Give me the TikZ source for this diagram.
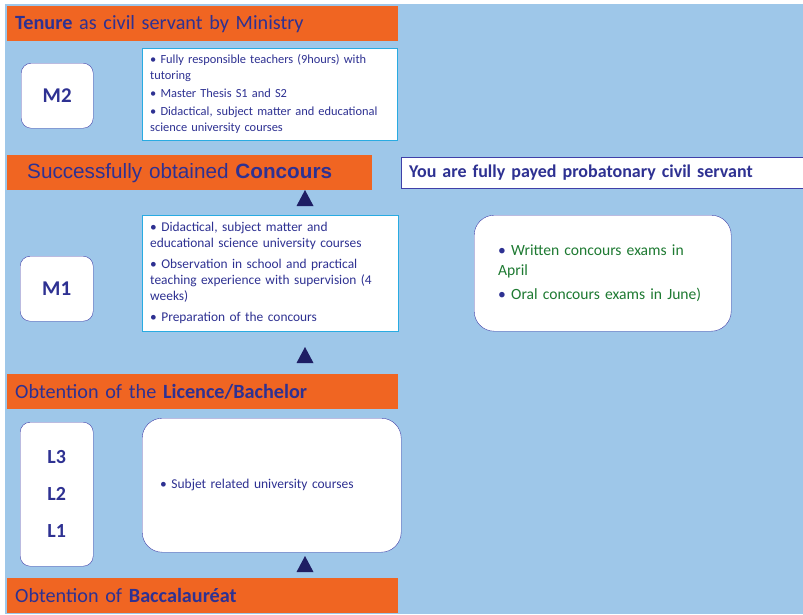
\documentclass[tikz,border=0pt]{standalone}
\usepackage{fontspec}
\setmainfont{Carlito}
\newfontfamily\arialfont{Liberation Sans}

\definecolor{bgblue}{RGB}{158,199,233}
\definecolor{barorange}{RGB}{240,101,34}
\definecolor{navytext}{RGB}{46,49,146}
\definecolor{navyline}{RGB}{64,64,168}
\definecolor{cyanline}{RGB}{41,171,226}
\definecolor{arrowblue}{RGB}{30,30,100}
\definecolor{examgreen}{RGB}{30,122,50}

\tikzset{
  bar/.style={fill=barorange, text=navytext, anchor=north west, align=left,
              inner xsep=8pt, inner ysep=0pt, minimum height=35pt,
              font=\fontsize{20.2}{24}\selectfont},
  level/.style={draw=navyline, fill=white, rounded corners=10pt, anchor=north west,
                text=navytext, font=\fontsize{21}{37}\selectfont\bfseries},
  info/.style={draw=cyanline, fill=white, anchor=north west, align=left,
               text=navytext, inner xsep=8pt},
  round/.style={draw=navyline, fill=white, rounded corners=20pt, anchor=north west,
                align=left},
}

\begin{document}
\begin{tikzpicture}[x=1pt,y=-1pt]
  \useasboundingbox (0,0) rectangle (803,614);
  \fill[bgblue] (5,4) rectangle (803,614);

  % master 2
  \node[bar, text width=375pt] (tenure) at (7,6) {\textbf{Tenure} as civil servant by Ministry};
  \node[level, minimum width=72pt, minimum height=65pt] (m2) at (21,63) {M2\hspace{9pt}};
  \node[info, text width=239pt, minimum height=92pt, font=\fontsize{12.4}{16}\selectfont]
    (m2info) at (142,48)
    {\textbullet\ Fully responsible teachers (9hours) with\\ tutoring\\[2.5pt]
     \textbullet\ Master Thesis S1 and S2\\[2pt]
     \textbullet\ Didactical, subject matter and educational\\ science university courses};

  % master 1
  \node[bar, text width=345pt, inner xsep=10pt, font=\arialfont\fontsize{20.7}{24}\selectfont]
    (concours) at (7,155) {\hspace{10pt}Successfully obtained \textbf{Concours}};
  \node[draw=navyline, fill=white, anchor=north west, align=left, text width=388pt,
        inner xsep=8pt, minimum height=31pt, text=navytext,
        font=\fontsize{18}{22}\selectfont\bfseries]
    (probation) at (401,157) {You are fully payed probatonary civil servant};
  \node[level, minimum width=73pt, minimum height=65pt] (m1) at (20,256) {M1\hspace{9pt}};
  \node[info, text width=240pt, minimum height=116pt, font=\fontsize{13.4}{16}\selectfont]
    (m1info) at (142,215)
    {\textbullet\ Didactical, subject matter and\\ educational science university courses\\[5pt]
     \textbullet\ Observation in school and practical\\ teaching experience with supervision (4\\ weeks)\\[5pt]
     \textbullet\ Preparation of the concours};
  \node[round, text width=209pt, inner xsep=24pt, minimum height=116pt, text=examgreen,
        font=\fontsize{15.6}{20}\selectfont] (exams) at (474,215)
    {{\color{navytext}\textbullet}\ Written concours exams in\\ April\\[4pt]
     {\color{navytext}\textbullet}\ Oral concours exams in June)};

  % licence
  \node[bar, text width=375pt] (licence) at (7,374) {Obtention of the \textbf{Licence/Bachelor}};
  \node[level, minimum width=73pt, minimum height=144pt, align=center,
        font=\fontsize{20}{37}\selectfont\bfseries] (lic) at (20,422) {L3\\ L2\\ L1};
  \node[round, text width=223pt, inner xsep=18pt, minimum height=134pt, text=navytext,
        font=\fontsize{13.5}{16}\selectfont] (licinfo) at (142,418)
    {\textbullet\ Subjet related university courses};

  % baccalaureat
  \node[bar, text width=375pt] (bac) at (7,578) {Obtention of \textbf{Baccalauréat}};

  \foreach \y in {190,347,556}
    \fill[arrowblue] (296.5,\y+16) -- (313.5,\y+16) -- (305,\y) -- cycle;
\end{tikzpicture}
\end{document}
